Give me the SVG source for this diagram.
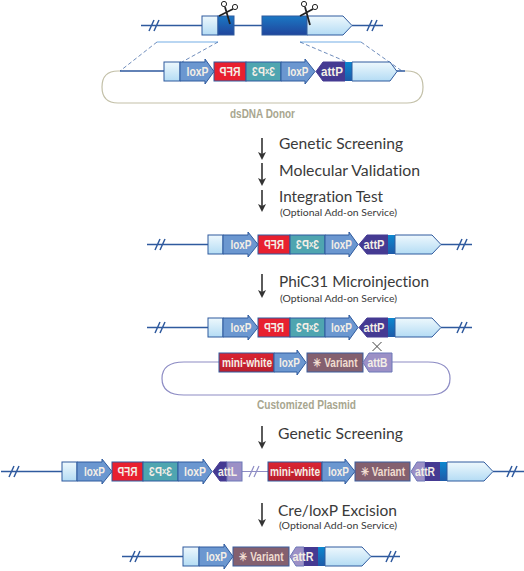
<svg xmlns="http://www.w3.org/2000/svg" width="524" height="571" viewBox="0 0 524 571">
<defs>
<linearGradient id="gl" x1="0" y1="0" x2="0" y2="1"><stop offset="0" stop-color="#eef8fd"/><stop offset="1" stop-color="#b4dcf4"/></linearGradient>
<linearGradient id="gd" x1="0" y1="0" x2="0" y2="1"><stop offset="0" stop-color="#1b78c4"/><stop offset="1" stop-color="#20459c"/></linearGradient>
<linearGradient id="gb" x1="0" y1="0" x2="0" y2="1"><stop offset="0" stop-color="#0b87cf"/><stop offset="1" stop-color="#1e5aa8"/></linearGradient>
<linearGradient id="gm" x1="0" y1="0" x2="0" y2="1"><stop offset="0" stop-color="#dc2432"/><stop offset="1" stop-color="#b81f2e"/></linearGradient>
<marker id="ah" viewBox="0 0 8 8" refX="5" refY="4" markerWidth="8" markerHeight="8" markerUnits="userSpaceOnUse" orient="auto"><path d="M0 0L8 4L0 8L2 4z" fill="#333"/></marker>
</defs>
<style>
.s{stroke:#2f5a9e;stroke-width:1;}
.lb{fill:url(#gl);}
.lox{fill:#6b97d0;stroke:#2f5a9e;stroke-width:1;}
.rfp{fill:#e8202f;stroke:#2f5a9e;stroke-width:1;}
.p3{fill:#4fa5b0;stroke:#2f5a9e;stroke-width:1;}
.attp{fill:#453a92;stroke:#453a92;stroke-width:1;}
.atb{fill:#9c90c6;stroke:#6d79b8;stroke-width:1;}
.var{fill:#84606f;stroke:#3b5c9e;stroke-width:1;}
.mw{fill:url(#gm);stroke:#2f5a9e;stroke-width:1;}
.line{stroke:#2f5a9e;stroke-width:1.5;fill:none;}
.pale{stroke:#8d8cc4;stroke-width:1.2;fill:none;}
.t{font-family:"Liberation Sans",Arial,sans-serif;font-size:12.5px;font-weight:bold;fill:#f3eee6;text-anchor:middle;}
.v{fill:#f0dcd0;}
.s1{font-family:Lato,"Liberation Sans",sans-serif;font-size:15.5px;fill:#3a3a3a;font-variant-ligatures:none;}
.s2{font-family:Lato,"Liberation Sans",sans-serif;font-size:9px;fill:#3a3a3a;font-variant-ligatures:none;}
.cap{font-family:"Liberation Sans",Arial,sans-serif;font-size:12px;font-weight:bold;fill:#a8a68f;text-anchor:middle;}
.arr{stroke:#333;stroke-width:1.6;fill:none;marker-end:url(#ah);}
</style>

<g id="connectors">
<path class="line" d="M141 25.5H202M234 25.5H262M352 25.5H383M149 31L154 20M154 31L159 20M367 31L372 20M372 31L377 20"/>
<path class="line" d="M120 71H164M396 71H405"/>
<path d="M157 42H218M300 42H361" stroke="#b9d6f2" stroke-width="2" fill="none"/>
<path d="M157 42L120 71M218 42L182 62M300 42L347 62M361 42L402 71" stroke="#2f5a9e" stroke-width="0.7" stroke-dasharray="4 2.5" fill="none"/>
<path d="M120 71H118Q102 71 102 87Q102 103 118 103H407Q423 103 423 87Q423 71 407 71H405" stroke="#c3c0a8" stroke-width="1.2" fill="none"/>
<path class="line" d="M147 244.5H208M441 244.5H472M155 250L160 239M160 250L165 239M457 250L462 239M462 250L467 239"/>
<path class="line" d="M147 327.5H208M441 327.5H472M155 333L160 322M160 333L165 322M457 333L462 322M462 333L467 322"/>
<path class="pale" d="M219 362H184Q162 362 162 378.500Q162 395 184 395H428Q450 395 450 378.500Q450 362 428 362H392"/>
<path d="M372.500 342L381.500 351M381.500 342L372.500 351" stroke="#444" stroke-width="1" fill="none"/>
<path class="line" d="M1 471.500H62M9 477L14 466M14 477L19 466M493 471.500H524M507 477L512 466M512 477L517 466"/>
<path class="pale" d="M242 471.500H268M249 477L254 466M254 477L259 466"/>
<path class="line" d="M122 556.500H183M371 556.500H400M130 562L135 551M135 562L140 551M386 562L391 551M391 562L396 551"/>
<path class="arr" d="M262 138V157"/><path class="arr" d="M262 163V183"/><path class="arr" d="M262 190V209"/>
<path class="arr" d="M262 274V295"/><path class="arr" d="M262 426V446"/><path class="arr" d="M262 503V524"/>
</g>

<g id="top-gene">
<rect class="lb s" x="202" y="16" width="16" height="19"/>
<rect x="218" y="16" width="16" height="19" fill="url(#gd)" stroke="#2f5a9e"/>
<rect x="262" y="16" width="45" height="19" fill="url(#gd)" stroke="#2f5a9e"/>
<polygon class="lb s" points="307,16 343,16 352,25.500 343,35 307,35"/>
</g>
<g id="scissors" fill="none" stroke="#222">
<path d="M225 7L230 24M233 9L219 16" stroke-width="1.800"/>
<circle cx="224" cy="4" r="2.600"/><circle cx="235" cy="7" r="2.600"/>
<path d="M305 7L310 25M313 9L300 16" stroke-width="1.800"/>
<circle cx="304" cy="4" r="2.600"/><circle cx="315" cy="7" r="2.600"/>
</g>

<g id="donor">
<rect class="lb s" x="164" y="62" width="16" height="19"/>
<polygon class="lox" points="180,62 205,62 205,59 214,71.500 205,84 205,81 180,81"/>
<text class="t" x="197.500" y="76" textLength="22" lengthAdjust="spacingAndGlyphs">loxP</text>
<rect class="rfp" x="214" y="62" width="32" height="19"/>
<text class="t" transform="translate(230 76) scale(-1 1)" textLength="21" lengthAdjust="spacingAndGlyphs">RFP</text>
<rect class="p3" x="246" y="62" width="35" height="19"/>
<text class="t" transform="translate(263.500 76) scale(-1 1)" textLength="23" lengthAdjust="spacingAndGlyphs">3<tspan font-size="9" dy="-2">x</tspan><tspan dy="2">P3</tspan></text>
<polygon class="lox" points="281,62 305,62 305,59 315,71.500 305,84 305,81 281,81"/>
<text class="t" x="298" y="76" textLength="21" lengthAdjust="spacingAndGlyphs">loxP</text>
<polygon class="attp" points="316,71.500 323,62 345,62 345,81 323,81"/>
<text class="t" x="332" y="76" textLength="22" lengthAdjust="spacingAndGlyphs">attP</text>
<rect x="345" y="62" width="7" height="19" fill="url(#gb)"/>
<polygon class="lb s" points="352,62 390,62 397,71.500 390,81 352,81"/>
<text class="cap" x="262.500" y="118" textLength="65" lengthAdjust="spacingAndGlyphs">dsDNA Donor</text>
</g>

<g id="step-labels-1">
<text class="s1" x="279" y="149" textLength="124" lengthAdjust="spacingAndGlyphs">Genetic Screening</text>
<text class="s1" x="279" y="176" textLength="141" lengthAdjust="spacingAndGlyphs">Molecular Validation</text>
<text class="s1" x="279" y="202" textLength="104" lengthAdjust="spacingAndGlyphs">Integration Test</text>
<text class="s2" x="280" y="216" textLength="117" lengthAdjust="spacingAndGlyphs">(Optional Add-on Service)</text>
</g>

<g id="allele-1">
<rect class="lb s" x="208" y="235" width="15" height="19"/>
<polygon class="lox" points="223,235 248,235 248,232 258,244.500 248,257 248,254 223,254"/>
<text class="t" x="241" y="249" textLength="21" lengthAdjust="spacingAndGlyphs">loxP</text>
<rect class="rfp" x="258" y="235" width="32" height="19"/>
<text class="t" transform="translate(274 249) scale(-1 1)" textLength="20" lengthAdjust="spacingAndGlyphs">RFP</text>
<rect class="p3" x="290" y="235" width="35" height="19"/>
<text class="t" transform="translate(307.500 249) scale(-1 1)" textLength="23" lengthAdjust="spacingAndGlyphs">3<tspan font-size="9" dy="-2">x</tspan><tspan dy="2">P3</tspan></text>
<polygon class="lox" points="325,235 349,235 349,232 358,244.500 349,257 349,254 325,254"/>
<text class="t" x="341.500" y="249" textLength="21" lengthAdjust="spacingAndGlyphs">loxP</text>
<polygon class="attp" points="359,244.500 367,235 388,235 388,254 367,254"/>
<text class="t" x="374" y="249" textLength="21" lengthAdjust="spacingAndGlyphs">attP</text>
<rect x="388" y="235" width="7" height="19" fill="url(#gb)"/>
<polygon class="lb s" points="395,235 432,235 441,244.500 432,254 395,254"/>
</g>

<g id="step-label-2">
<text class="s1" x="279" y="287" textLength="150" lengthAdjust="spacingAndGlyphs">PhiC31 Microinjection</text>
<text class="s2" x="280" y="302" textLength="117" lengthAdjust="spacingAndGlyphs">(Optional Add-on Service)</text>
</g>

<g id="allele-2">
<rect class="lb s" x="208" y="318" width="15" height="19"/>
<polygon class="lox" points="223,318 248,318 248,315 258,327.500 248,340 248,337 223,337"/>
<text class="t" x="241" y="332" textLength="21" lengthAdjust="spacingAndGlyphs">loxP</text>
<rect class="rfp" x="258" y="318" width="32" height="19"/>
<text class="t" transform="translate(274 332) scale(-1 1)" textLength="20" lengthAdjust="spacingAndGlyphs">RFP</text>
<rect class="p3" x="290" y="318" width="35" height="19"/>
<text class="t" transform="translate(307.500 332) scale(-1 1)" textLength="23" lengthAdjust="spacingAndGlyphs">3<tspan font-size="9" dy="-2">x</tspan><tspan dy="2">P3</tspan></text>
<polygon class="lox" points="325,318 349,318 349,315 358,327.500 349,340 349,337 325,337"/>
<text class="t" x="341.500" y="332" textLength="21" lengthAdjust="spacingAndGlyphs">loxP</text>
<polygon class="attp" points="359,327.500 367,318 388,318 388,337 367,337"/>
<text class="t" x="374" y="332" textLength="21" lengthAdjust="spacingAndGlyphs">attP</text>
<rect x="388" y="318" width="7" height="19" fill="url(#gb)"/>
<polygon class="lb s" points="395,318 432,318 441,327.500 432,337 395,337"/>
</g>

<g id="plasmid">
<rect class="mw" x="219" y="353" width="55" height="19"/>
<text class="t" transform="translate(247 367) scale(0.81 1)">mini-white</text>
<polygon class="lox" points="274,353 297,353 297,350 306,362.500 297,375 297,372 274,372"/>
<text class="t" x="289.500" y="367" textLength="21" lengthAdjust="spacingAndGlyphs">loxP</text>
<rect class="var" x="307" y="353" width="56" height="19"/>
<text class="t v" transform="translate(335.500 367) scale(0.8 1)">✳ Variant</text>
<polygon class="atb" points="363,362.500 369,353 392,353 392,372 369,372"/>
<text class="t" x="377.500" y="367" textLength="20" lengthAdjust="spacingAndGlyphs">attB</text>
<text class="cap" x="306.500" y="409" textLength="99" lengthAdjust="spacingAndGlyphs">Customized Plasmid</text>
</g>

<g id="step-label-3">
<text class="s1" x="278" y="439" textLength="125" lengthAdjust="spacingAndGlyphs">Genetic Screening</text>
</g>

<g id="integrated-left">
<rect class="lb s" x="62" y="462" width="15" height="19"/>
<polygon class="lox" points="77,462 102,462 102,459 112,471.500 102,484 102,481 77,481"/>
<text class="t" x="94.500" y="476" textLength="21" lengthAdjust="spacingAndGlyphs">loxP</text>
<rect class="rfp" x="112" y="462" width="31" height="19"/>
<text class="t" transform="translate(127.500 476) scale(-1 1)" textLength="20" lengthAdjust="spacingAndGlyphs">RFP</text>
<rect class="p3" x="143" y="462" width="35" height="19"/>
<text class="t" transform="translate(160.500 476) scale(-1 1)" textLength="23" lengthAdjust="spacingAndGlyphs">3<tspan font-size="9" dy="-2">x</tspan><tspan dy="2">P3</tspan></text>
<polygon class="lox" points="178,462 203,462 203,459 212,471.500 203,484 203,481 178,481"/>
<text class="t" x="195" y="476" textLength="22" lengthAdjust="spacingAndGlyphs">loxP</text>
<polygon class="attp" points="213,471.500 220,462 227,462 227,481 220,481"/>
<rect x="227" y="462" width="15" height="19" fill="#9c90c6" stroke="#6d79b8"/>
<text class="t" x="227.500" y="476" textLength="19" lengthAdjust="spacingAndGlyphs">attL</text>
</g>

<g id="integrated-right">
<rect class="mw" x="268" y="462" width="54" height="19"/>
<text class="t" transform="translate(295 476) scale(0.81 1)">mini-white</text>
<polygon class="lox" points="322,462 345,462 345,459 355,471.500 345,484 345,481 322,481"/>
<text class="t" x="338.500" y="476" textLength="21" lengthAdjust="spacingAndGlyphs">loxP</text>
<rect class="var" x="355" y="462" width="55" height="19"/>
<text class="t v" transform="translate(383 476) scale(0.8 1)">✳ Variant</text>
<polygon class="atb" points="411,471.500 417,462 425,462 425,481 417,481"/>
<rect x="425" y="462" width="15" height="19" fill="#453a92"/>
<text class="t" x="425" y="476" textLength="20" lengthAdjust="spacingAndGlyphs">attR</text>
<rect x="440" y="462" width="7" height="19" fill="url(#gb)"/>
<polygon class="lb s" points="447,462 484,462 493,471.500 484,481 447,481"/>
</g>

<g id="step-label-4">
<text class="s1" x="278" y="516" textLength="119" lengthAdjust="spacingAndGlyphs">Cre/loxP Excision</text>
<text class="s2" x="279" y="529" textLength="118" lengthAdjust="spacingAndGlyphs">(Optional Add-on Service)</text>
</g>

<g id="final">
<rect class="lb s" x="183" y="547" width="16" height="19"/>
<polygon class="lox" points="199,547 224,547 224,544 233,556.500 224,569 224,566 199,566"/>
<text class="t" x="216.500" y="561" textLength="21" lengthAdjust="spacingAndGlyphs">loxP</text>
<rect class="var" x="233" y="547" width="56" height="19"/>
<text class="t v" transform="translate(261.500 561) scale(0.8 1)">✳ Variant</text>
<polygon class="atb" points="290,556.500 296,547 304,547 304,566 296,566"/>
<rect x="304" y="547" width="14" height="19" fill="#453a92"/>
<text class="t" x="303" y="561" textLength="21" lengthAdjust="spacingAndGlyphs">attR</text>
<rect x="318" y="547" width="7" height="19" fill="url(#gb)"/>
<polygon class="lb s" points="325,547 362,547 371,556.500 362,566 325,566"/>
</g>
</svg>
